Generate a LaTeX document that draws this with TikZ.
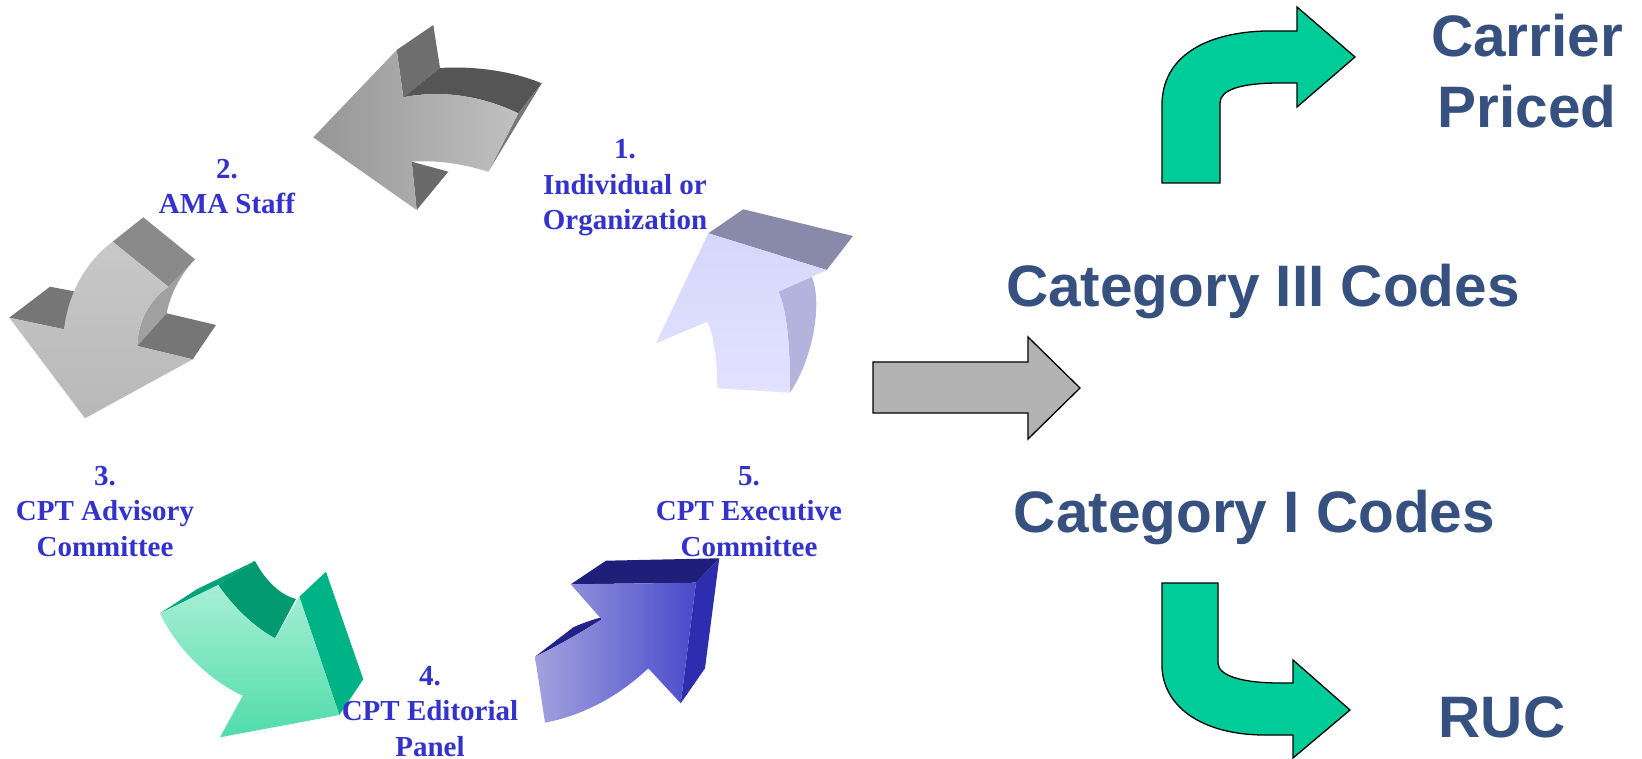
\documentclass[tikz,border=0pt]{standalone}
\usepackage{fontspec}
\setmainfont{Liberation Serif}
\newfontfamily\headfont{Liberation Sans}
\definecolor{stepblue}{RGB}{51,51,204}
\definecolor{codeblue}{RGB}{54,81,128}
\definecolor{flatgreen}{RGB}{0,204,153}
\definecolor{flatgray}{RGB}{179,179,179}
\begin{document}
\begin{tikzpicture}[x=1pt,y=-1pt,
  % multi-line nodes are placed by the baseline of their last line
  steplabel/.style={font=\bfseries\fontsize{29}{35.5}\selectfont, text=stepblue,
    align=center, anchor=base, inner sep=0pt},
  codelabel/.style={font=\headfont\bfseries\fontsize{58.5}{71}\selectfont, text=codeblue,
    align=center, anchor=base, inner sep=0pt},
  flatarrow/.style={draw=black, line width=1.3pt, line join=miter},
]
\useasboundingbox (0,0) rectangle (1642,759);
\fill[white] (0,0) rectangle (1642,759);

% ---------- step 2 arrow: grey, pointing left ----------
\fill[fill={rgb,255:red,110;green,110;blue,110}] (396.7,50) -- (433.3,25) -- (440,68) -- (403.3,97.3) -- cycle;
\fill[fill={rgb,255:red,85;green,85;blue,85}] (403.3,97.3) -- (440,68) .. controls (470,66) and (510,70) .. (541.7,83.3)
  -- (518.3,113.3) .. controls (480,95) and (440,90) .. cycle;
\fill[fill={rgb,255:red,120;green,120;blue,120}] (518.3,113.3) -- (541.7,83.3) -- (488.3,171.7) -- cycle;
\fill[fill={rgb,255:red,106;green,106;blue,106}] (411.7,161.7) -- (448.3,171.7) -- (416.7,210) -- cycle;
\shade[left color={rgb,255:red,150;green,150;blue,150}, right color={rgb,255:red,192;green,192;blue,192}]
  (313.3,137.3) -- (396.7,50) -- (403.3,97.3) .. controls (440,90) and (480,95) .. (518.3,113.3)
  -- (488.3,171.7) .. controls (460,163) and (435,160) .. (411.7,161.7) -- (416.7,210) -- cycle;

% ---------- step 3 arrow: grey, pointing down-left ----------
\fill[fill={rgb,255:red,160;green,160;blue,160}] (168.3,286.7) -- (195,259.3) .. controls (180,275) and (170,295) .. (166.7,313.3)
  -- (137.3,346) .. controls (138,320) and (150,300) .. cycle;
\fill[fill={rgb,255:red,118;green,118;blue,118}] (137.3,346) -- (166.7,313.3) -- (216,325) -- (192.7,359.3) -- cycle;
\fill[fill={rgb,255:red,118;green,118;blue,118}] (9.3,317.7) -- (50,286.7) -- (76,291.7) -- (64,329.3) -- cycle;
\fill[fill={rgb,255:red,138;green,138;blue,138}] (112.7,241.7) -- (143.3,217.3) -- (195,259.3) -- (168.3,286.7) -- cycle;
\shade[top color={rgb,255:red,200;green,200;blue,200}, bottom color={rgb,255:red,184;green,184;blue,184}]
  (85,418.3) -- (9.3,317.7) -- (64,329.3) .. controls (68,295) and (85,262) .. (112.7,241.7)
  -- (168.3,286.7) .. controls (150,300) and (138,320) .. (137.3,346) -- (192.7,359.3) -- cycle;

% ---------- step 1 arrow: lavender, pointing up ----------
\fill[fill={rgb,255:red,137;green,137;blue,169}] (708.3,233.3) -- (743.3,209.3) -- (853,236) -- (826.7,270) -- cycle;
\fill[fill={rgb,255:red,179;green,179;blue,221}] (778.3,291.7) -- (811.7,276.7) .. controls (822,300) and (815,355) .. (790,392.7)
  .. controls (790,345) and (787,310) .. cycle;
\shade[top color={rgb,255:red,214;green,214;blue,250}, bottom color={rgb,255:red,226;green,226;blue,255}]
  (656,343.3) -- (708.3,233.3) -- (826.7,270) -- (778.3,291.7) .. controls (787,310) and (790,345) .. (790,392.7)
  -- (717.3,388.3) .. controls (717.3,360) and (714,335) .. (707.3,321.7) -- cycle;

% ---------- step 4 arrow: green, pointing down-right ----------
\fill[fill={rgb,255:red,0;green,163;blue,122}] (160,613.3) -- (218.3,585) -- (255,561) -- (196.7,589.3) -- cycle;
\fill[fill={rgb,255:red,0;green,153;blue,112}] (218.3,585) -- (255,561) .. controls (265,580) and (280,595) .. (296,599)
  -- (275,638.3) .. controls (250,625) and (228,600) .. cycle;
\fill[fill={rgb,255:red,0;green,179;blue,134}] (299.3,596.7) -- (326,571.7) -- (363.3,679.3) -- (339.3,715) -- cycle;
\shade[top color={rgb,255:red,168;green,238;blue,214}, bottom color={rgb,255:red,80;green,220;blue,170}]
  (160,613.3) -- (218.3,585) .. controls (228,600) and (250,625) .. (275,638.3) -- (299.3,596.7)
  -- (339.3,715) -- (220,737.3) -- (242.7,695.7) .. controls (205,678) and (175,645) .. cycle;

% ---------- step 5 arrow: blue, pointing up-right ----------
\fill[fill={rgb,255:red,31;green,31;blue,122}] (570.7,584.3) -- (606,560.7) -- (719.3,558.3) -- (696,582.7) -- cycle;
\fill[fill={rgb,255:red,45;green,45;blue,176}] (696,582.7) -- (719.3,558.3) -- (705,668.3) -- (680.7,703.3) -- cycle;
\fill[fill={rgb,255:red,34;green,34;blue,136}] (535,656.7) -- (573.3,627.3) .. controls (585,622) and (595,619) .. (601.7,617.3)
  -- (601.7,619.3) .. controls (585,630) and (560,645) .. cycle;
\shade[left color={rgb,255:red,162;green,162;blue,222}, right color={rgb,255:red,74;green,74;blue,204}]
  (545,722.7) -- (535,656.7) .. controls (560,645) and (585,630) .. (601.7,619.3) -- (570.7,584.3)
  -- (696,582.7) -- (680.7,703.3) -- (648.3,668.3) .. controls (620,695) and (585,715) .. cycle;

% ---------- step labels ----------
\node[steplabel] (s1) at (625,230) {1.\\Individual or\\Organization};
\node[steplabel] (s2) at (227,214) {2.\\AMA Staff};
\node[steplabel] (s3) at (105,556) {3.\\CPT Advisory\\Committee};
\node[steplabel] (s4) at (430,756) {4.\\CPT Editorial\\Panel};
\node[steplabel] (s5) at (749,556) {5.\\CPT Executive\\Committee};

% ---------- outcome side ----------
\draw[flatarrow, fill=flatgray] (873,362) -- (1028,362) -- (1028,337) -- (1080,388) -- (1028,439) -- (1028,413) -- (873,413) -- cycle;

\draw[flatarrow, fill=flatgreen] (1162,183) -- (1220,183) -- (1220,103) .. controls (1220,90) and (1240,83) .. (1280,83)
  -- (1297,83) -- (1297,107) -- (1355,57) -- (1297,7) -- (1297,31) -- (1265,31)
  .. controls (1200,33) and (1162,60) .. (1162,105) -- cycle;
\draw[flatarrow, fill=flatgreen] (1162,583) -- (1218,583) -- (1218,663) .. controls (1218,675) and (1240,683) .. (1280,683)
  -- (1293,683) -- (1293,660) -- (1350,710) -- (1293,758) -- (1293,735) -- (1265,735)
  .. controls (1200,735) and (1162,705) .. (1162,665) -- cycle;

\node[codelabel] (cat3) at (1263,307) {Category III Codes};
\node[codelabel] (cat1) at (1254.5,532) {Category I Codes};
\node[codelabel] (carrier) at (1527,128) {Carrier\\Priced};
\node[codelabel] (ruc) at (1502,737) {RUC};
\end{tikzpicture}
\end{document}
